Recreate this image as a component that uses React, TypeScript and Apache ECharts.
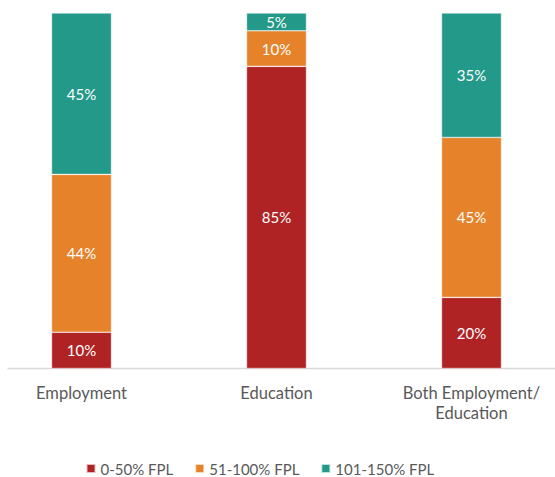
import React, { useEffect, useRef } from "react";
import * as echarts from "echarts";

const categories = ["Employment", "Education", "Both Employment/\nEducation"];
const seriesNames = ["0-50% FPL", "51-100% FPL", "101-150% FPL"];
const low = [10.2, 85, 20];
const mid = [44.4, 10, 45];
const high = [45.4, 5, 35];
const colors = ["#B02325", "#E6832A", "#23998A"];

const SHIFT = 16.5;

export default function App() {
  const ref = useRef<HTMLDivElement>(null);
  useEffect(() => {
    const chart = echarts.init(ref.current!, null, { renderer: "svg" });
    const font = "Lato";
    const mk = (name: string, data: number[], color: string) => ({
      name,
      type: "bar",
      stack: "total",
      data,
      barWidth: 60,
      itemStyle: { color, borderColor: "rgba(255,255,255,0.7)", borderWidth: 0.6 },
      label: {
        show: true,
        position: "inside",
        color: "#ffffff",
        fontFamily: font,
        fontSize: 15,
        formatter: (p: any) => Math.round(p.value) + "%",
      },
    });
    chart.setOption({
      animation: false,
      color: colors,
      grid: { left: 0, right: 0, top: 13, bottom: 108.5, containLabel: false },
      xAxis: {
        type: "category",
        data: categories,
        axisLine: { show: false },
        axisTick: { show: false },
        axisLabel: {
          color: "#595959",
          fontFamily: font,
          fontSize: 16.5,
          lineHeight: 20,
          margin: 14,
          interval: 0,
        },
      },
      yAxis: {
        type: "value",
        min: 0,
        max: 100,
        show: false,
        splitLine: { show: false },
      },
      legend: {
        top: 456,
        left: 80 + SHIFT,
        itemWidth: 9,
        itemHeight: 9,
        itemGap: 21,
        icon: "rect",
        textStyle: { color: "#595959", fontFamily: font, fontSize: 15 },
        data: seriesNames,
      },
      graphic: [
        {
          type: "line",
          shape: { x1: 7 + SHIFT, y1: 368.5, x2: 555 + SHIFT, y2: 368.5 },
          style: { stroke: "#D9D9D9", lineWidth: 1.5 },
          z: 0,
        },
      ],
      series: [
        mk(seriesNames[0], low, colors[0]),
        mk(seriesNames[1], mid, colors[1]),
        mk(seriesNames[2], high, colors[2]),
      ],
    });
    return () => chart.dispose();
  }, []);
  return (
    <div style={{ position: "fixed", left: 0, top: 0, width: 555, height: 477, overflow: "hidden", background: "#fff" }}>
      <div ref={ref} style={{ position: "absolute", left: -SHIFT, top: 0, width: 585, height: 477 }} />
    </div>
  );
}
